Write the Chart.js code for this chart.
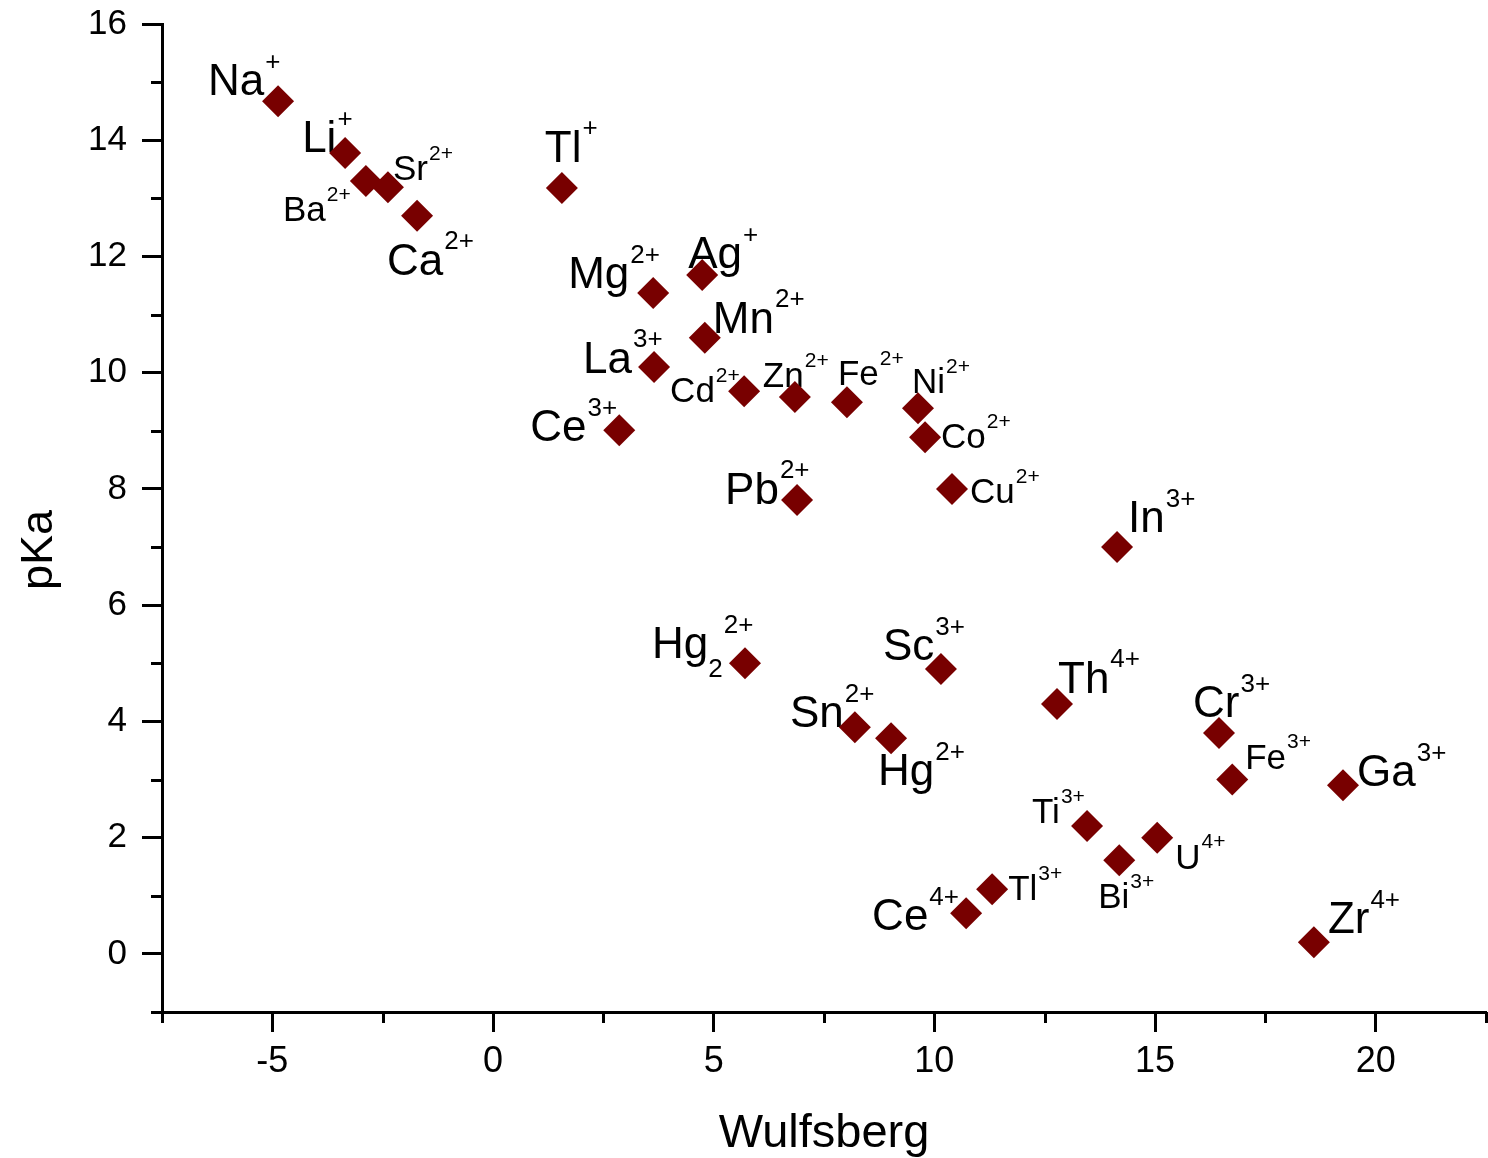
<!DOCTYPE html>
<html>
<head>
<meta charset="utf-8">
<script src="https://cdn.jsdelivr.net/npm/chart.js@4.4.1/dist/chart.umd.min.js"></script>
<style>
  body { margin: 0; background: #fff; }
</style>
</head>
<body>
<canvas id="chart1" width="1488" height="1158"></canvas>
<script>
// ion symbol, subscript and charge for every point
const ions = ['Na','Li','Ba','Sr','Ca','Tl','Mg','Ag','Mn','La','Cd','Zn','Fe','Ni','Co','Cu','In','Ce','Pb','Hg','Sc','Sn','Hg','Th','Cr','Fe','Ga','Ti','U','Bi','Zr','Ce','Tl'];
const subs = ['','','','','','','','','','','','','','','','','','','','2','','','','','','','','','','','','',''];
const charges = ['+','+','2+','2+','2+','+','2+','+','2+','3+','2+','2+','2+','2+','2+','2+','3+','3+','2+','2+','3+','2+','2+','4+','3+','3+','3+','3+','4+','3+','4+','4+','3+'];

// values
const wulfsberg = [-4.87,-3.35,-2.88,-2.38,-1.72,1.56,3.63,4.74,4.80,3.65,5.69,6.84,8.02,9.63,9.79,10.40,14.14,2.86,6.89,5.71,10.15,8.20,9.02,12.78,16.45,16.75,19.26,13.46,15.05,14.19,18.60,10.72,11.31];
const pKa = [14.67,13.78,13.30,13.19,12.70,13.18,11.37,11.68,10.60,10.10,9.68,9.58,9.49,9.39,8.89,8.00,7.00,9.01,7.81,5.00,4.90,3.90,3.71,4.30,3.80,3.00,2.90,2.20,2.00,1.61,0.20,0.70,1.11];

const xTicks = [-5, 0, 5, 10, 15, 20];
const yTicks = [0, 2, 4, 6, 8, 10, 12, 14, 16];
const xMinor = [-7.5, -2.5, 2.5, 7.5, 12.5, 17.5, 22.5];
const yMinor = [-1, 1, 3, 5, 7, 9, 11, 13, 15];

// label placement (px from the marker) and size
const labelDx = [-70,-43,-83,5,-30,-17,-85,-14,8,-71,-74,-32,-9,-6,16,18,11,-89,-72,-93,-58,-65,-13,1,-26,13,14,-55,18,-21,14,-94,16];
const labelDy = [-6,-1,40,-7,59,-26,-5,-7,-5,6,11,-10,-17,-15,11,14,-15,11,4,-5,-9,0,47,-11,-16,-11,1,-3,31,48,-9,17,11];
const labelSize = ['L','L','S','S','L','L','L','L','L','L','S','S','S','S','S','S','L','L','L','L','L','L','L','L','L','S','L','S','S','S','L','L','S'];

const fam = '"Liberation Sans", Arial, sans-serif';
Chart.defaults.font.family = fam;
Chart.defaults.color = '#000';

const ionLabels = {
  id: 'ionLabels',
  beforeDatasetsDraw(chart) {
    const ctx = chart.ctx;
    const meta = chart.getDatasetMeta(0);
    ctx.save();
    ctx.fillStyle = '#000';
    ctx.textAlign = 'left';
    ctx.textBaseline = 'alphabetic';
    meta.data.forEach((pt, i) => {
      const big = labelSize[i] === 'L';
      const fs = big ? 44 : 35;
      const ss = big ? 26 : 21;
      let x = pt.x + labelDx[i];
      const y = pt.y + labelDy[i];
      ctx.font = fs + 'px ' + fam;
      ctx.fillText(ions[i], x, y);
      x += ctx.measureText(ions[i]).width;
      ctx.font = ss + 'px ' + fam;
      if (subs[i]) {
        ctx.fillText(subs[i], x, y + fs * 0.42);
        x += ctx.measureText(subs[i]).width;
      }
      ctx.fillText(charges[i], x + 1, y - fs * 0.58);
    });
    ctx.restore();
  }
};

const minorTicks = {
  id: 'minorTicks',
  afterDraw(chart) {
    const ctx = chart.ctx;
    const xs = chart.scales.x, ys = chart.scales.y;
    const area = chart.chartArea;
    ctx.save();
    ctx.strokeStyle = '#000';
    ctx.lineWidth = 3;
    ctx.beginPath();
    xMinor.forEach(v => {
      const px = Math.round(xs.getPixelForValue(v)) + 0.5;
      ctx.moveTo(px, area.bottom);
      ctx.lineTo(px, area.bottom + 11);
    });
    yMinor.forEach(v => {
      const py = Math.round(ys.getPixelForValue(v)) + 0.5;
      ctx.moveTo(area.left - 11, py);
      ctx.lineTo(area.left, py);
    });
    ctx.stroke();
    // y axis title
    ctx.fillStyle = '#000';
    ctx.font = '45px ' + fam;
    ctx.textAlign = 'center';
    ctx.textBaseline = 'alphabetic';
    ctx.translate(52, (area.top + area.bottom) / 2 + 32);
    ctx.rotate(-Math.PI / 2);
    ctx.fillText('pKa', 0, 0);
    ctx.restore();
  }
};

function noPad(s) {
  s.paddingTop = 0; s.paddingBottom = 0; s.paddingLeft = 0; s.paddingRight = 0;
}

const axisGrid = { drawOnChartArea: false, drawTicks: true, tickLength: 20, tickWidth: 3, tickColor: '#000' };
const axisBorder = { display: true, color: '#000', width: 3 };

const myChart = new Chart(document.getElementById('chart1'), {
  type: 'scatter',
  data: {
    datasets: [{
      data: wulfsberg.map((x, i) => ({ x: x, y: pKa[i] })),
      pointStyle: 'rectRot',
      pointRadius: 16,
      pointBackgroundColor: '#780000',
      pointBorderWidth: 0
    }]
  },
  options: {
    responsive: false,
    animation: false,
    layout: { autoPadding: false, padding: { top: 24, right: 2, left: 0, bottom: 0 } },
    plugins: { legend: { display: false }, tooltip: { enabled: false } },
    scales: {
      x: {
        type: 'linear',
        min: -7.5,
        max: 22.5,
        afterBuildTicks: s => { s.ticks = xTicks.map(v => ({ value: v })); },
        afterFit: s => { s.height = 146; noPad(s); },
        ticks: { font: { size: 36 }, padding: 8, color: '#000' },
        grid: axisGrid,
        border: axisBorder,
        title: { display: true, text: 'Wulfsberg', font: { size: 47 }, color: '#000', padding: { top: 0, bottom: -4 } }
      },
      y: {
        min: -1,
        max: 16,
        afterBuildTicks: s => { s.ticks = yTicks.map(v => ({ value: v })); },
        afterFit: s => { s.width = 162; noPad(s); },
        ticks: { font: { size: 35 }, padding: 15, color: '#000' },
        grid: axisGrid,
        border: axisBorder
      }
    }
  },
  plugins: [ionLabels, minorTicks]
});
</script>
</body>
</html>
